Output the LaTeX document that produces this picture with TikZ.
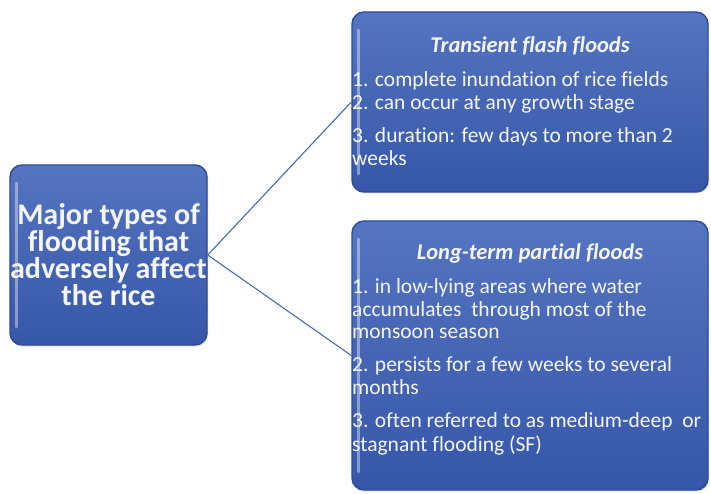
\documentclass[tikz,border=0pt]{standalone}
\usepackage{fontspec}
\setmainfont{Carlito}[Ligatures=NoCommon]
\usetikzlibrary{shadows}

\definecolor{panelTop}{HTML}{5575C1}
\definecolor{panelBottom}{HTML}{3656A8}
\definecolor{panelEdge}{HTML}{2D4B9B}
\definecolor{linkBlue}{HTML}{4B68AE}
\definecolor{ink}{HTML}{F4F6FB}

\tikzset{
  panel/.style={
    rectangle, rounded corners=12pt, inner sep=0pt,
    draw=panelEdge, line width=1.4pt,
    top color=panelTop, bottom color=panelBottom,
    drop shadow={opacity=0.25, shadow xshift=1pt, shadow yshift=-1.5pt},
    path picture={
      \draw[white, opacity=0.4, line width=2.5pt, line cap=round]
        ([xshift=6.5pt, yshift=-18pt]path picture bounding box.north west)
        -- ([xshift=6.5pt, yshift=18pt]path picture bounding box.south west);
    }
  },
  link/.style={draw=linkBlue, line width=1.1pt},
  body/.style={anchor=base west, inner sep=0pt, text=ink,
    font=\fontsize{21.5}{23}\selectfont},
  head/.style={anchor=base, inner sep=0pt, text=ink,
    font=\fontsize{22.5}{24}\selectfont\bfseries\itshape},
  lead/.style={inner sep=0pt, text=ink, align=center,
    font=\fontsize{30}{27}\selectfont\bfseries}
}

\begin{document}
\begin{tikzpicture}[x=1pt, y=-1pt]
  \fill[white] (0,0) rectangle (711,494);
  \useasboundingbox (0,0) rectangle (711,494);

  % the three panels
  \node[panel, minimum width=197pt, minimum height=180pt] (major) at (108.5,255) {};
  \node[panel, minimum width=356pt, minimum height=180pt] (flash) at (530,102) {};
  \node[panel, minimum width=356pt, minimum height=269pt] (partial) at (530,355.5) {};

  % connectors from the main panel to the two flood types
  \draw[link] (major.east) -- (flash.west);
  \draw[link] (major.east) -- (partial.west);

  % main panel caption
  \node[lead] (majortext) at (108.5,255)
    {Major types of\\flooding that\\adversely affect\\the rice};

  % transient flash floods
  \node[head] (flashhead) at (530,53) {Transient flash floods};
  \node[body] (fa) at (352,87) {1. complete inundation of rice fields};
  \node[body] (fb) at (352,110) {2. can occur at any growth stage};
  \node[body] (fc) at (352,143) {3. duration: few days to more than 2};
  \node[body] (fd) at (352,166) {weeks};

  % long-term partial floods
  \node[head] (parthead) at (530,259) {Long-term partial floods};
  \node[body] (pa) at (352,293) {1. in low-lying areas where water};
  \node[body] (pb) at (352,316) {accumulates\ \ through most of the};
  \node[body] (pc) at (352,338) {monsoon season};
  \node[body] (pd) at (352,371) {2. persists for a few weeks to several};
  \node[body] (pe) at (352,394) {months};
  \node[body] (pf) at (352,427) {3. often referred to as medium-deep\ \ or};
  \node[body] (pg) at (352,451) {stagnant flooding (SF)};
\end{tikzpicture}
\end{document}
